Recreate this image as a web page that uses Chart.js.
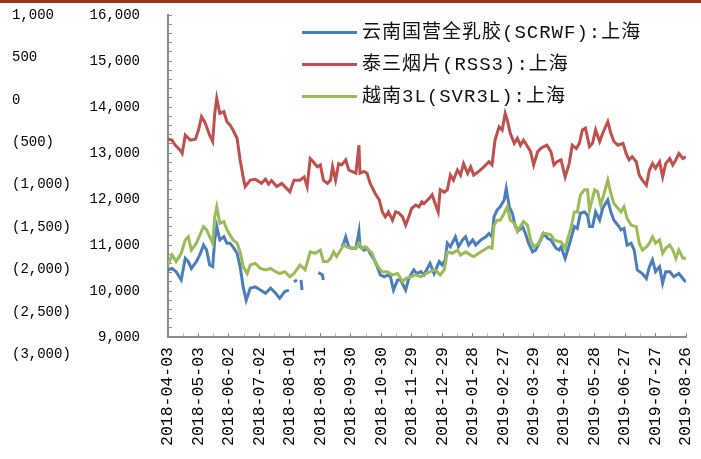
<!DOCTYPE html>
<html>
<head>
<meta charset="utf-8">
<script src="https://cdn.jsdelivr.net/npm/chart.js@4.4.1/dist/chart.umd.min.js"></script>
<style>
  body{margin:0;background:#fff;}
  #wrap{position:relative;width:701px;height:459px;overflow:hidden;}
  #topbar{position:absolute;left:0;top:0;width:701px;height:3px;background:#9b3a12;}
  .leg{position:absolute;left:302px;height:22px;line-height:22px;white-space:nowrap;
       font:19px "Liberation Mono","Noto Sans CJK SC",monospace;letter-spacing:1px;color:#111;}
  .leg i{display:inline-block;width:55px;height:3px;vertical-align:middle;margin-right:5px;}
</style>
</head>
<body>
<div id="wrap">
  <canvas id="c" width="701" height="459"></canvas>
  <div id="topbar"></div>
  <div id="legend"></div>
</div>
<script>
// x axis: days after 2018-04-03, one label every 30 days
const xTickLabels = ["2018-04-03","2018-05-03","2018-06-02","2018-07-02","2018-08-01","2018-08-31",
  "2018-09-30","2018-10-30","2018-11-29","2018-12-29","2019-01-28","2019-02-27","2019-03-29",
  "2019-04-28","2019-05-28","2019-06-27","2019-07-27","2019-08-26"];
const outerTicks = [1000, 500, 0, -500, -1000, -1500, -2000, -2500, -3000];

const seriesNames = ["云南国营全乳胶(SCRWF):上海", "泰三烟片(RSS3):上海", "越南3L(SVR3L):上海"];
const seriesColors = ["#4a7ebb", "#c0504d", "#9bbb59"];

const blueDays = [0,4,8,13,17,20,23,28,32,35,38,41,44,46,48,51,55,58,61,64,68,71,74,77,81,86,91,96,101,106,110,115,119,121,
  124,127,129,131,132,134,148,150,152,153,155,
  171,173,175,178,181,185,188,189,193,196,199,203,206,209,213,216,219,222,226,229,234,237,242,245,249,252,
  258,262,267,270,273,275,278,283,286,290,293,296,300,303,308,313,316,319,321,324,327,331,333,336,339,342,346,349,352,355,359,362,367,370,374,377,382,385,
  387,391,395,400,403,406,410,413,415,418,421,425,428,433,436,439,443,446,449,452,456,459,462,467,471,474,477,480,484,487,490,494,498,503,508,510];
const blueVals = [10460,10490,10420,10240,10710,10640,10490,10640,10820,11000,10890,10565,10530,11110,11400,11110,11180,11040,11040,10960,10820,10530,10090,9800,10060,10090,10020,9950,10060,9950,9840,9990,10020,null,
  10200,10240,null,10240,10020,null,10400,10380,10350,10240,null,
  10960,11040,11180,10960,10930,10930,11290,10960,10890,10930,10820,10680,10530,10350,10310,10350,10310,10020,10240,10240,10020,10270,10460,10380,10420,10350,
  10600,10380,10640,10565,10680,11040,10960,11180,10960,11110,11180,11000,11110,11000,11110,11180,11250,11180,11610,11760,11830,11980,12230,11830,11690,11400,11330,11400,11250,11040,10850,10890,11110,11250,11140,11110,10930,10890,
  10960,10710,11000,11400,11360,11690,11720,11650,11400,11400,11720,11540,11800,11980,11720,11540,11430,11330,11360,11000,11040,10890,10460,10380,10270,10530,10680,10420,10530,10170,10420,10420,10310,10380,10240,10200];

const redDays = [0,4,7,12,14,17,22,27,30,33,36,38,41,44,46,48,51,55,58,61,64,68,71,74,76,81,86,92,96,99,102,107,112,115,120,124,
  130,134,137,140,143,147,150,153,157,160,162,165,168,171,175,178,181,185,188,189,193,196,199,204,208,211,214,217,221,224,227,231,234,237,240,244,247,250,252,
  257,260,263,266,268,272,275,278,281,285,288,291,295,298,301,306,311,316,319,322,326,329,332,334,337,341,344,347,350,354,357,360,364,367,370,373,377,380,383,
  387,391,395,398,402,405,408,411,415,418,421,425,428,433,436,439,443,448,451,454,457,461,464,467,471,474,477,480,484,487,490,494,497,500,503,507,510];
const redVals = [13300,13280,13170,13060,12990,13390,13280,13300,13500,13790,13680,13570,13390,13250,13860,14190,13860,13900,13680,13610,13500,13320,12850,12480,12270,12410,12430,12340,12430,12320,12400,12270,12340,12270,12160,12410,
  12410,12480,12270,12880,12810,12700,12740,12410,12340,12410,12700,12410,12770,12740,12850,12630,12600,12560,13170,12560,12600,12560,12340,12120,11980,11720,11610,11720,11540,11720,11700,11610,11430,11610,11800,11870,11830,11940,11900,
  12010,12090,11900,11720,12200,12150,12200,12520,12410,12630,12520,12770,12560,12700,12520,12600,12700,12810,12740,13280,13570,13500,13860,13720,13430,13210,13320,13170,13280,13140,13030,12740,13030,13100,13140,13170,13030,12740,12810,
  12850,12480,12770,13170,13100,13210,13500,13540,13140,13210,13500,13250,13430,13680,13430,13250,13170,13210,12990,12850,12920,12810,12520,12410,12300,12630,12770,12670,12810,12480,12770,12880,12740,12850,12990,12880,12920];

const greenDays = [0,4,8,13,17,20,23,28,32,35,38,41,44,46,48,51,55,58,61,64,68,71,74,78,81,86,91,96,101,106,110,115,120,124,
  130,135,140,145,150,153,157,160,163,166,170,173,176,180,185,188,191,194,198,201,204,208,211,216,221,226,231,234,239,244,249,254,
  258,263,268,272,275,280,285,288,293,298,301,306,311,316,319,321,324,327,331,334,337,341,344,347,350,354,357,360,365,369,372,377,380,385,
  387,391,397,400,403,406,410,413,415,420,423,426,429,433,436,439,443,446,449,452,456,461,464,467,471,474,477,480,484,487,490,494,497,500,503,507,510];
const greenVals = [10565,10780,10640,10820,11110,11180,10890,11040,11250,11400,11330,11180,11040,11610,11830,11470,11510,11330,11220,11110,11040,10850,10530,10380,10565,10600,10490,10460,10490,10420,10380,10420,10310,10380,
  10565,10460,10850,10820,10890,10640,10640,10710,10850,10750,10890,11000,10960,10930,10930,11040,10930,10960,10890,10820,10640,10490,10420,10420,10350,10380,10200,10270,10310,10350,10310,10380,
  10420,10460,10350,10460,10850,10820,10890,10780,10850,10780,10750,10820,10890,10960,10930,11430,11540,11540,11690,11830,11540,11470,11290,11400,11510,11430,11110,10960,11040,11250,11250,11220,11110,11070,
  11070,10930,11400,11720,11720,12090,12200,12200,11760,12200,12160,11870,12090,12410,12120,11900,11800,11720,11830,11580,11430,11400,11040,10890,10960,11040,11180,11040,11110,10820,10930,11000,10890,10710,10890,10710,10710];

function points(days, vals){
  return days.map((d, i) => ({x: d, y: vals[i]}));
}

function fmt(v){
  const s = Math.abs(v).toLocaleString("en-US");
  return v < 0 ? "(" + s + ")" : s;
}

// html legend, placed inside the plot like the original
const legendEl = document.getElementById("legend");
const legendTops = [16, 48, 80];
seriesNames.forEach((name, i) => {
  const div = document.createElement("div");
  div.className = "leg";
  div.style.top = legendTops[i] + "px";
  div.innerHTML = `<i style="background:${seriesColors[i]}"></i>${name}`;
  legendEl.appendChild(div);
});

const axisGrey = "#8a8a8a";
const monoFont = {family: "Liberation Mono", size: 14};

function lineSet(label, data, color, order){
  return {label, data, borderColor: color, backgroundColor: color, borderWidth: 3,
    pointRadius: 0, tension: 0, spanGaps: false, order};
}

// tick padding is only there to push labels away; don't let it grow the layout
function fixPad(s){
  s.paddingTop = 8; s.paddingBottom = 8; s.paddingLeft = 0; s.paddingRight = 0;
}

new Chart(document.getElementById("c").getContext("2d"), {
  type: "line",
  data: {
    datasets: [
      lineSet(seriesNames[0], points(blueDays, blueVals), seriesColors[0], 2),
      lineSet(seriesNames[1], points(redDays, redVals), seriesColors[1], 1),
      lineSet(seriesNames[2], points(greenDays, greenVals), seriesColors[2], 0)
    ]
  },
  options: {
    responsive: false,
    animation: false,
    layout: {padding: {left: 12, top: 15, right: 15, bottom: 0}},
    plugins: {legend: {display: false}, tooltip: {enabled: false}},
    scales: {
      x: {
        type: "linear", position: "bottom", min: 0, max: 510,
        afterFit: s => { s.height = 122; fixPad(s); s.paddingTop = 0; s.paddingBottom = 0; },
        ticks: {
          stepSize: 15, autoSkip: false, minRotation: 90, maxRotation: 90, padding: 14,
          color: "#000", font: {family: "Liberation Mono", size: 16.5},
          callback: v => (v % 30 === 0 ? xTickLabels[v / 30] : "")
        },
        grid: {drawOnChartArea: false, drawTicks: true, tickLength: -4,
          tickColor: c => (c.tick && c.tick.value % 30 === 0 ? axisGrey : "#c4c4c4")},
        border: {color: axisGrey, width: 2}
      },
      y: {
        type: "linear", position: "left", weight: 0, min: 9000, max: 16000,
        afterFit: s => { s.width = 88; fixPad(s); },
        ticks: {
          stepSize: 200, autoSkip: false, padding: 32, color: "#000", font: monoFont,
          callback: v => (v % 1000 === 0 ? fmt(v) : "")
        },
        grid: {drawOnChartArea: false, drawTicks: true, tickLength: -4, tickColor: axisGrey},
        border: {color: axisGrey, width: 2}
      },
      y2: {
        type: "linear", position: "left", weight: 1, min: -2797, max: 1000,
        afterFit: s => { s.width = 68; fixPad(s); },
        afterBuildTicks: s => { s.ticks = outerTicks.map(v => ({value: v})); },
        ticks: {autoSkip: false, crossAlign: "far", padding: 0, color: "#000", font: monoFont,
          callback: v => fmt(v)},
        grid: {display: false},
        border: {display: false}
      }
    }
  }
});
</script>
</body>
</html>
